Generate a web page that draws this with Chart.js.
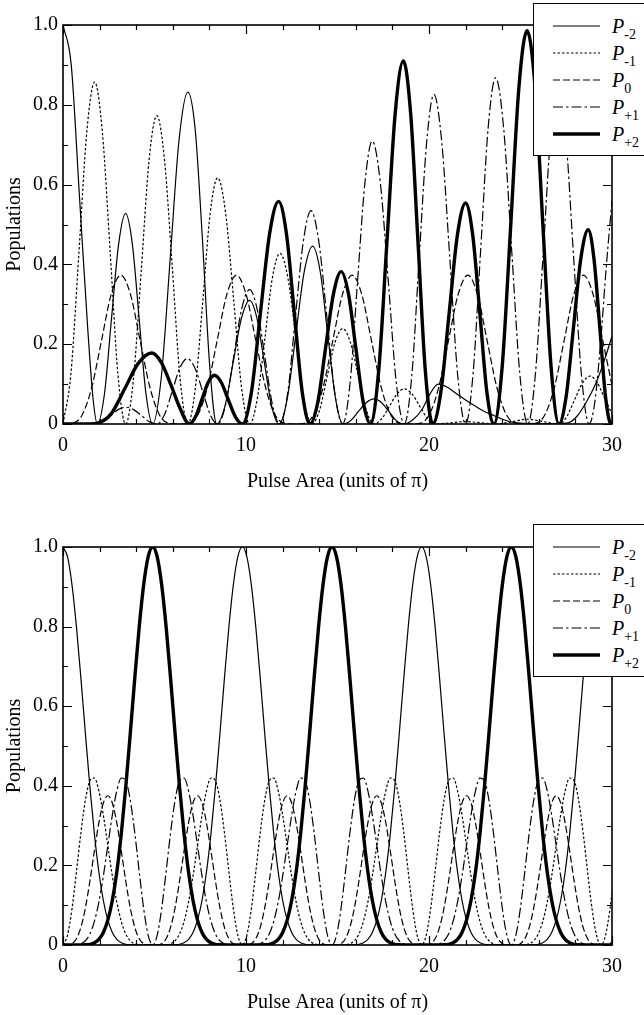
<!DOCTYPE html>
<html>
<head>
<meta charset="utf-8">
<script src="https://cdn.jsdelivr.net/npm/chart.js@4.4.1/dist/chart.umd.min.js"></script>
<style>
  html, body { margin: 0; padding: 0; background: #fff; }
  body { position: relative; width: 644px; height: 1015px; overflow: hidden; font-family: 'Liberation Serif', 'Times New Roman', serif; }
  .panel { position: absolute; left: 0; }
  .legend { position: absolute; left: 533px; width: 130px; height: 153px; background: #fff; border: 1.5px solid #000; box-sizing: border-box; }
  .legend .row { position: absolute; left: 0; height: 20px; width: 130px; }
  .legend svg { position: absolute; left: 18px; top: 0; }
  .legend .lab { position: absolute; left: 78px; top: 0; font-size: 20px; line-height: 20px; color: #000; white-space: nowrap; }
  .legend .lab i { font-style: italic; }
  .legend .lab span { font-size: 14px; position: relative; top: 6px; }
</style>
</head>
<body>
<div class="panel" style="top:0"><canvas id="topChart" width="644" height="494"></canvas></div>
<div class="panel" style="top:494px"><canvas id="bottomChart" width="644" height="521"></canvas></div>
<div class="legend" id="legendTop" style="top:3px"></div>
<div class="legend" id="legendBottom" style="top:524px"></div>
<script>
// axis ticks
const xLabelTicks = [0, 10, 20, 30];
const xMinorTicks = [0, 2, 4, 6, 8, 10, 12, 14, 16, 18, 20, 22, 24, 26, 28, 30];
const yLabelTicks = [0, 0.2, 0.4, 0.6, 0.8, 1.0];
const yMinorTicks = [0, 0.1, 0.2, 0.3, 0.4, 0.5, 0.6, 0.7, 0.8, 0.9, 1.0];

const seriesNames = ['-2', '-1', '0', '+1', '+2'];

// ---- top panel ----
const topM2X = [0, 0.45, 0.9, 1.35, 1.65, 1.88, 2.27, 2.65, 3.04, 3.42, 3.79, 4.16, 4.53, 4.9, 5.38, 5.86, 6.34, 6.82, 7.22, 7.61, 8.01, 8.4, 8.85, 9.3, 9.75, 10.2, 10.6, 11.0, 11.4, 11.8, 12.26, 12.72, 13.18, 13.64, 14.06, 14.47, 14.89, 15.3, 15.73, 16.15, 16.58, 17.0, 17.4, 17.8, 18.2, 18.6, 19.1, 19.6, 20.05, 20.5, 21.0, 21.5, 22.0, 22.45, 23.0, 23.4, 23.9, 24.4, 25.0, 26.0, 27.0, 27.6, 28.1, 28.6, 29.1, 29.55, 30];
const topM2Y = [1, 0.9, 0.57, 0.24, 0.06, 0, 0.077, 0.264, 0.451, 0.528, 0.451, 0.264, 0.077, 0, 0.121, 0.416, 0.711, 0.832, 0.74, 0.47, 0.15, 0, 0.045, 0.155, 0.265, 0.31, 0.265, 0.155, 0.045, 0, 0.065, 0.223, 0.381, 0.446, 0.381, 0.223, 0.065, 0, 0.009, 0.032, 0.054, 0.063, 0.054, 0.032, 0.009, 0, 0.01, 0.035, 0.075, 0.1, 0.092, 0.076, 0.06, 0.047, 0.032, 0.024, 0.014, 0.006, 0.002, 0.001, 0.001, 0.003, 0.02, 0.055, 0.1, 0.155, 0.22];

const topM1X = [0, 0.43, 0.87, 1.3, 1.73, 2.15, 2.58, 3.0, 3.42, 3.85, 4.28, 4.7, 5.13, 5.55, 5.98, 6.4, 6.82, 7.23, 7.64, 8.04, 8.45, 8.89, 9.33, 9.76, 10.2, 10.61, 11.03, 11.44, 11.85, 12.29, 12.73, 13.16, 13.6, 14.02, 14.44, 14.86, 15.28, 15.71, 16.14, 16.57, 17.0, 17.41, 17.83, 18.24, 18.65, 19.08, 19.5, 19.93, 20.35, 21.18, 22.0, 22.85, 23.7, 24.55, 25.4, 26.25, 27.1, 27.52, 27.95, 28.38, 28.8, 29.2, 29.6, 30];
const topM1Y = [0, 0.125, 0.429, 0.732, 0.857, 0.732, 0.429, 0.125, 0, 0.113, 0.387, 0.66, 0.773, 0.66, 0.387, 0.113, 0, 0.09, 0.309, 0.527, 0.617, 0.527, 0.309, 0.09, 0, 0.062, 0.214, 0.366, 0.428, 0.366, 0.214, 0.062, 0, 0.035, 0.12, 0.204, 0.239, 0.204, 0.12, 0.035, 0, 0.013, 0.044, 0.075, 0.088, 0.075, 0.044, 0.013, 0, 0.003, 0.006, 0.003, 0, 0.006, 0.012, 0.006, 0, 0.018, 0.06, 0.102, 0.12, 0.103, 0.064, 0.025];

const topP0X = [0, 0.527, 1.053, 1.58, 2.107, 2.633, 3.16, 3.687, 4.213, 4.74, 5.267, 5.793, 6.32, 6.847, 7.373, 7.9, 8.427, 8.953, 9.48, 10.007, 10.533, 11.06, 11.587, 12.113, 12.64, 13.167, 13.693, 14.22, 14.747, 15.273, 15.8, 16.327, 16.853, 17.38, 17.907, 18.433, 18.96, 19.487, 20.013, 20.54, 21.067, 21.593, 22.12, 22.647, 23.173, 23.7, 24.227, 24.753, 25.28, 25.807, 26.333, 26.86, 27.387, 27.913, 28.44, 28.967, 29.493, 30];
const topP0Y = [0, 0.0017, 0.0233, 0.0933, 0.2098, 0.3248, 0.373, 0.3248, 0.2098, 0.0933, 0.0233, 0.0017,
                0, 0.0017, 0.0233, 0.0933, 0.2098, 0.3248, 0.373, 0.3248, 0.2098, 0.0933, 0.0233, 0.0017,
                0, 0.0017, 0.0233, 0.0933, 0.2098, 0.3248, 0.373, 0.3248, 0.2098, 0.0933, 0.0233, 0.0017,
                0, 0.0017, 0.0233, 0.0933, 0.2098, 0.3248, 0.373, 0.3248, 0.2098, 0.0933, 0.0233, 0.0017,
                0, 0.0017, 0.0233, 0.0933, 0.2098, 0.3248, 0.373, 0.3248, 0.2098, 0.097];

const topP1X = [0, 1.73, 2.16, 2.59, 3.01, 3.44, 3.86, 4.29, 4.71, 5.13, 5.55, 5.97, 6.38, 6.8, 7.21, 7.63, 8.04, 8.45, 8.89, 9.33, 9.76, 10.2, 10.61, 11.03, 11.44, 11.85, 12.28, 12.7, 13.13, 13.55, 13.98, 14.42, 14.85, 15.28, 15.69, 16.09, 16.5, 16.9, 17.34, 17.78, 18.21, 18.65, 19.06, 19.46, 19.87, 20.27, 20.7, 21.14, 21.57, 22.0, 22.41, 22.82, 23.23, 23.64, 24.08, 24.52, 24.96, 25.4, 25.81, 26.23, 26.64, 27.05, 27.48, 27.9, 28.33, 28.75, 29.06, 29.38, 29.69, 30];
const topP1Y = [0, 0, 0.006, 0.021, 0.036, 0.042, 0.036, 0.021, 0.006, 0, 0.024, 0.082, 0.14, 0.164, 0.14, 0.082, 0.024, 0, 0.049, 0.169, 0.288, 0.337, 0.288, 0.169, 0.049, 0, 0.078, 0.268, 0.457, 0.535, 0.457, 0.268, 0.078, 0, 0.104, 0.355, 0.605, 0.709, 0.605, 0.355, 0.104, 0, 0.121, 0.413, 0.705, 0.826, 0.705, 0.413, 0.121, 0, 0.127, 0.434, 0.741, 0.868, 0.741, 0.434, 0.127, 0, 0.123, 0.42, 0.717, 0.84, 0.717, 0.42, 0.123, 0, 0.055, 0.207, 0.396, 0.56];

const topP2X = [0, 1.5, 1.9, 2.64, 3.38, 4.11, 4.85, 5.36, 5.88, 6.39, 6.9, 7.24, 7.59, 7.93, 8.27, 8.65, 9.03, 9.42, 9.8, 10.3, 10.79, 11.29, 11.78, 12.21, 12.64, 13.07, 13.5, 13.93, 14.35, 14.78, 15.2, 15.6, 16.0, 16.4, 16.8, 17.25, 17.7, 18.15, 18.6, 19.0, 19.4, 19.8, 20.2, 20.65, 21.1, 21.55, 22.0, 22.39, 22.78, 23.16, 23.55, 24.0, 24.46, 24.91, 25.36, 25.8, 26.23, 26.67, 27.1, 27.5, 27.9, 28.3, 28.7, 29.01, 29.33, 29.64, 29.95, 30];
const topP2Y = [0, 0, 0.002, 0.026, 0.089, 0.152, 0.178, 0.155, 0.1, 0.04, 0, 0.018, 0.061, 0.104, 0.122, 0.104, 0.061, 0.018, 0, 0.081, 0.279, 0.477, 0.558, 0.477, 0.279, 0.081, 0, 0.056, 0.191, 0.326, 0.382, 0.326, 0.191, 0.056, 0, 0.133, 0.455, 0.777, 0.91, 0.777, 0.455, 0.133, 0, 0.081, 0.277, 0.473, 0.554, 0.473, 0.277, 0.081, 0, 0.144, 0.493, 0.842, 0.986, 0.842, 0.493, 0.144, 0, 0.071, 0.244, 0.416, 0.487, 0.416, 0.244, 0.071, 0, 0.003];

// ---- bottom panel ----
const botX = [0, 0.245, 0.49, 0.735, 0.98, 1.225, 1.47, 1.715, 1.96, 2.205, 2.45, 2.695, 2.94, 3.185, 3.43, 3.675, 3.92, 4.165, 4.41, 4.655, 4.9,
  5.145, 5.39, 5.635, 5.88, 6.125, 6.37, 6.615, 6.86, 7.105, 7.35, 7.595, 7.84, 8.085, 8.33, 8.575, 8.82, 9.065, 9.31, 9.555, 9.8,
  10.045, 10.29, 10.535, 10.78, 11.025, 11.27, 11.515, 11.76, 12.005, 12.25, 12.495, 12.74, 12.985, 13.23, 13.475, 13.72, 13.965, 14.21, 14.455, 14.7,
  14.945, 15.19, 15.435, 15.68, 15.925, 16.17, 16.415, 16.66, 16.905, 17.15, 17.395, 17.64, 17.885, 18.13, 18.375, 18.62, 18.865, 19.11, 19.355, 19.6,
  19.845, 20.09, 20.335, 20.58, 20.825, 21.07, 21.315, 21.56, 21.805, 22.05, 22.295, 22.54, 22.785, 23.03, 23.275, 23.52, 23.765, 24.01, 24.255, 24.5,
  24.745, 24.99, 25.235, 25.48, 25.725, 25.97, 26.215, 26.46, 26.705, 26.95, 27.195, 27.44, 27.685, 27.93, 28.175, 28.42, 28.665, 28.91, 29.155, 29.4,
  29.645, 29.89, 30];
const botM2 = [1, 0.9756, 0.9056, 0.7992, 0.6693, 0.5308, 0.3972, 0.2793, 0.1835, 0.1118, 0.0625, 0.0316, 0.0142, 0.0056, 0.0018, 0.0005, 0.0001, 0, 0, 0, 0,
  0, 0, 0, 0.0001, 0.0005, 0.0018, 0.0056, 0.0142, 0.0316, 0.0625, 0.1118, 0.1835, 0.2793, 0.3972, 0.5308, 0.6693, 0.7992, 0.9056, 0.9756, 1,
  0.9756, 0.9056, 0.7992, 0.6693, 0.5308, 0.3972, 0.2793, 0.1835, 0.1118, 0.0625, 0.0316, 0.0142, 0.0056, 0.0018, 0.0005, 0.0001, 0, 0, 0, 0,
  0, 0, 0, 0.0001, 0.0005, 0.0018, 0.0056, 0.0142, 0.0316, 0.0625, 0.1118, 0.1835, 0.2793, 0.3972, 0.5308, 0.6693, 0.7992, 0.9056, 0.9756, 1,
  0.9756, 0.9056, 0.7992, 0.6693, 0.5308, 0.3972, 0.2793, 0.1835, 0.1118, 0.0625, 0.0316, 0.0142, 0.0056, 0.0018, 0.0005, 0.0001, 0, 0, 0, 0,
  0, 0, 0, 0.0001, 0.0005, 0.0018, 0.0056, 0.0142, 0.0316, 0.0625, 0.1118, 0.1835, 0.2793, 0.3972, 0.5308, 0.6693, 0.7992, 0.9056, 0.9756, 1,
  0.9756, 0.9056, 0.8615];
const botM1 = [0, 0.0242, 0.0909, 0.1843, 0.2827, 0.3643, 0.4125, 0.4196, 0.3875, 0.3262, 0.25, 0.1735, 0.108, 0.0592, 0.0278, 0.0107, 0.0032, 0.0006, 0.0001, 0, 0,
  0, 0.0001, 0.0006, 0.0032, 0.0107, 0.0278, 0.0592, 0.108, 0.1735, 0.25, 0.3262, 0.3875, 0.4196, 0.4125, 0.3643, 0.2827, 0.1843, 0.0909, 0.0242, 0,
  0.0242, 0.0909, 0.1843, 0.2827, 0.3643, 0.4125, 0.4196, 0.3875, 0.3262, 0.25, 0.1735, 0.108, 0.0592, 0.0278, 0.0107, 0.0032, 0.0006, 0.0001, 0, 0,
  0, 0.0001, 0.0006, 0.0032, 0.0107, 0.0278, 0.0592, 0.108, 0.1735, 0.25, 0.3262, 0.3875, 0.4196, 0.4125, 0.3643, 0.2827, 0.1843, 0.0909, 0.0242, 0,
  0.0242, 0.0909, 0.1843, 0.2827, 0.3643, 0.4125, 0.4196, 0.3875, 0.3262, 0.25, 0.1735, 0.108, 0.0592, 0.0278, 0.0107, 0.0032, 0.0006, 0.0001, 0, 0,
  0, 0.0001, 0.0006, 0.0032, 0.0107, 0.0278, 0.0592, 0.108, 0.1735, 0.25, 0.3262, 0.3875, 0.4196, 0.4125, 0.3643, 0.2827, 0.1843, 0.0909, 0.0242, 0,
  0.0242, 0.0909, 0.1309];
const botP0 = [0, 0.0002, 0.0034, 0.0159, 0.0448, 0.0937, 0.1606, 0.2363, 0.3068, 0.3569, 0.375, 0.3569, 0.3068, 0.2363, 0.1606, 0.0937, 0.0448, 0.0159, 0.0034, 0.0002, 0,
  0.0002, 0.0034, 0.0159, 0.0448, 0.0937, 0.1606, 0.2363, 0.3068, 0.3569, 0.375, 0.3569, 0.3068, 0.2363, 0.1606, 0.0937, 0.0448, 0.0159, 0.0034, 0.0002, 0,
  0.0002, 0.0034, 0.0159, 0.0448, 0.0937, 0.1606, 0.2363, 0.3068, 0.3569, 0.375, 0.3569, 0.3068, 0.2363, 0.1606, 0.0937, 0.0448, 0.0159, 0.0034, 0.0002, 0,
  0.0002, 0.0034, 0.0159, 0.0448, 0.0937, 0.1606, 0.2363, 0.3068, 0.3569, 0.375, 0.3569, 0.3068, 0.2363, 0.1606, 0.0937, 0.0448, 0.0159, 0.0034, 0.0002, 0,
  0.0002, 0.0034, 0.0159, 0.0448, 0.0937, 0.1606, 0.2363, 0.3068, 0.3569, 0.375, 0.3569, 0.3068, 0.2363, 0.1606, 0.0937, 0.0448, 0.0159, 0.0034, 0.0002, 0,
  0.0002, 0.0034, 0.0159, 0.0448, 0.0937, 0.1606, 0.2363, 0.3068, 0.3569, 0.375, 0.3569, 0.3068, 0.2363, 0.1606, 0.0937, 0.0448, 0.0159, 0.0034, 0.0002, 0,
  0.0002, 0.0034, 0.0075];
const botP1 = [0, 0, 0.0001, 0.0006, 0.0032, 0.0107, 0.0278, 0.0592, 0.108, 0.1735, 0.25, 0.3262, 0.3875, 0.4196, 0.4125, 0.3643, 0.2827, 0.1843, 0.0909, 0.0242, 0,
  0.0242, 0.0909, 0.1843, 0.2827, 0.3643, 0.4125, 0.4196, 0.3875, 0.3262, 0.25, 0.1735, 0.108, 0.0592, 0.0278, 0.0107, 0.0032, 0.0006, 0.0001, 0, 0,
  0, 0.0001, 0.0006, 0.0032, 0.0107, 0.0278, 0.0592, 0.108, 0.1735, 0.25, 0.3262, 0.3875, 0.4196, 0.4125, 0.3643, 0.2827, 0.1843, 0.0909, 0.0242, 0,
  0.0242, 0.0909, 0.1843, 0.2827, 0.3643, 0.4125, 0.4196, 0.3875, 0.3262, 0.25, 0.1735, 0.108, 0.0592, 0.0278, 0.0107, 0.0032, 0.0006, 0.0001, 0, 0,
  0, 0.0001, 0.0006, 0.0032, 0.0107, 0.0278, 0.0592, 0.108, 0.1735, 0.25, 0.3262, 0.3875, 0.4196, 0.4125, 0.3643, 0.2827, 0.1843, 0.0909, 0.0242, 0,
  0.0242, 0.0909, 0.1843, 0.2827, 0.3643, 0.4125, 0.4196, 0.3875, 0.3262, 0.25, 0.1735, 0.108, 0.0592, 0.0278, 0.0107, 0.0032, 0.0006, 0.0001, 0, 0,
  0, 0.0001, 0.0002];
const botP2 = [0, 0, 0, 0, 0.0001, 0.0005, 0.0018, 0.0056, 0.0142, 0.0316, 0.0625, 0.1118, 0.1835, 0.2793, 0.3972, 0.5308, 0.6693, 0.7992, 0.9056, 0.9756, 1,
  0.9756, 0.9056, 0.7992, 0.6693, 0.5308, 0.3972, 0.2793, 0.1835, 0.1118, 0.0625, 0.0316, 0.0142, 0.0056, 0.0018, 0.0005, 0.0001, 0, 0, 0, 0,
  0, 0, 0, 0.0001, 0.0005, 0.0018, 0.0056, 0.0142, 0.0316, 0.0625, 0.1118, 0.1835, 0.2793, 0.3972, 0.5308, 0.6693, 0.7992, 0.9056, 0.9756, 1,
  0.9756, 0.9056, 0.7992, 0.6693, 0.5308, 0.3972, 0.2793, 0.1835, 0.1118, 0.0625, 0.0316, 0.0142, 0.0056, 0.0018, 0.0005, 0.0001, 0, 0, 0, 0,
  0, 0, 0, 0.0001, 0.0005, 0.0018, 0.0056, 0.0142, 0.0316, 0.0625, 0.1118, 0.1835, 0.2793, 0.3972, 0.5308, 0.6693, 0.7992, 0.9056, 0.9756, 1,
  0.9756, 0.9056, 0.7992, 0.6693, 0.5308, 0.3972, 0.2793, 0.1835, 0.1118, 0.0625, 0.0316, 0.0142, 0.0056, 0.0018, 0.0005, 0.0001, 0, 0, 0, 0,
  0, 0, 0];

// line styles, same order as seriesNames
const styles = [
  { width: 1.2, dash: [] },
  { width: 1.2, dash: [2.5, 2] },
  { width: 1.2, dash: [7, 3] },
  { width: 1.2, dash: [10, 3, 2.5, 3] },
  { width: 3.4, dash: [] }
];

const FONT = "'Liberation Serif', 'Times New Roman', serif";

function zip(xs, ys) {
  return xs.map((x, i) => ({ x: x, y: ys[i] }));
}

function makeDatasets(pairs) {
  return pairs.map((p, i) => ({
    label: 'P' + seriesNames[i],
    data: zip(p[0], p[1]),
    borderColor: '#000',
    borderWidth: styles[i].width,
    borderDash: styles[i].dash,
    pointRadius: 0,
    fill: false,
    cubicInterpolationMode: 'monotone'
  }));
}

// frame box plus inward tick marks on all four sides
const frameTicks = {
  id: 'frameTicks',
  afterDatasetsDraw(chart) {
    const { ctx, chartArea: a, scales: { x, y } } = chart;
    ctx.save();
    ctx.strokeStyle = '#000';
    ctx.lineWidth = 1.2;
    ctx.beginPath();
    xMinorTicks.forEach(v => {
      const px = Math.round(x.getPixelForValue(v)) + 0.5;
      const len = v % 10 === 0 ? 9 : 5;
      ctx.moveTo(px, a.bottom); ctx.lineTo(px, a.bottom - len);
      ctx.moveTo(px, a.top); ctx.lineTo(px, a.top + len);
    });
    yMinorTicks.forEach(v => {
      const py = Math.round(y.getPixelForValue(v)) + 0.5;
      const len = Math.round(v * 10) % 2 === 0 ? 9 : 5;
      ctx.moveTo(a.left, py); ctx.lineTo(a.left + len, py);
      ctx.moveTo(a.right, py); ctx.lineTo(a.right - len, py);
    });
    ctx.stroke();
    ctx.lineWidth = 1.6;
    ctx.strokeRect(a.left, a.top, a.right - a.left, a.bottom - a.top);
    ctx.restore();
  }
};

function makeChart(id, datasets, topPad) {
  return new Chart(document.getElementById(id), {
    type: 'line',
    data: { datasets: datasets },
    options: {
      responsive: false,
      animation: false,
      layout: { padding: { top: topPad, right: 32, left: 0, bottom: 0 } },
      plugins: { legend: { display: false }, tooltip: { enabled: false } },
      scales: {
        x: {
          type: 'linear', min: 0, max: 30,
          grid: { display: false, drawTicks: false },
          border: { display: false },
          ticks: { color: '#000', padding: 10, maxRotation: 0, font: { family: FONT, size: 20 } },
          afterBuildTicks: s => { s.ticks = xLabelTicks.map(v => ({ value: v })); },
          afterFit: s => { s.height = 70; },
          title: { display: true, text: 'Pulse Area (units of π)', color: '#000', padding: 0, font: { family: FONT, size: 20 } }
        },
        y: {
          type: 'linear', min: 0, max: 1,
          grid: { display: false, drawTicks: false },
          border: { display: false },
          ticks: {
            color: '#000', padding: 5, font: { family: FONT, size: 20 },
            callback: v => (v === 0 ? '0' : v.toFixed(1))
          },
          afterBuildTicks: s => { s.ticks = yLabelTicks.map(v => ({ value: v })); },
          afterFit: s => { s.width = 63; },
          title: { display: true, text: 'Populations', color: '#000', padding: { top: 3, bottom: 0 }, font: { family: FONT, size: 20 } }
        }
      }
    },
    plugins: [frameTicks]
  });
}

makeChart('topChart', makeDatasets([
  [topM2X, topM2Y], [topM1X, topM1Y], [topP0X, topP0Y], [topP1X, topP1Y], [topP2X, topP2Y]
]), 25);

makeChart('bottomChart', makeDatasets([
  [botX, botM2], [botX, botM1], [botX, botP0], [botX, botP1], [botX, botP2]
]), 53);

// legends
const legendRowY = [22, 49, 76, 103, 130];
function buildLegend(el) {
  let html = '';
  seriesNames.forEach((name, i) => {
    const st = styles[i];
    html += '<div class="row" style="top:' + (legendRowY[i] - 10) + 'px">' +
      '<svg width="50" height="20"><line x1="1" y1="10" x2="48" y2="10" stroke="#000" stroke-width="' + st.width +
      '" stroke-dasharray="' + (st.dash.length ? st.dash.join(',') : 'none') + '"/></svg>' +
      '<div class="lab"><i>P</i><span>' + name + '</span></div></div>';
  });
  el.innerHTML = html;
}
buildLegend(document.getElementById('legendTop'));
buildLegend(document.getElementById('legendBottom'));
</script>
</body>
</html>
